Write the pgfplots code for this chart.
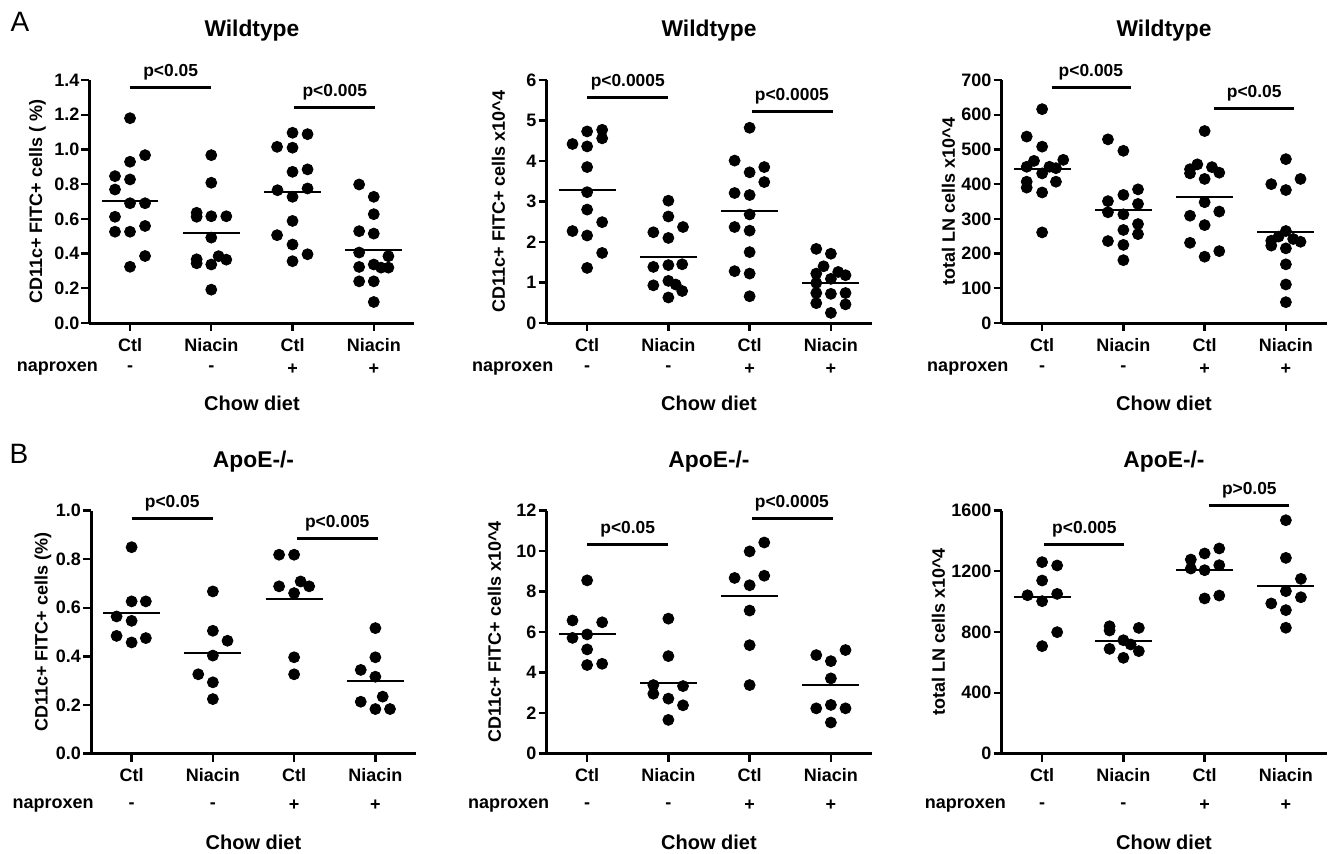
\documentclass[border=0pt]{standalone}
\usepackage{fontspec}
\setmainfont{Liberation Sans}
\usepackage{pgfplots}
\pgfplotsset{compat=1.18}

\newcommand\fs[1]{\bfseries\fontsize{#1}{#1}\selectfont}

\pgfplotsset{
  gp/.style={
    scale only axis, width=162.5pt, height=121.5pt,
    xmin=-0.5, xmax=3.5, ymin=0,
    axis x line*=bottom, axis y line*=left,
    axis line style={line width=1.5pt, -},
    xtick={0,1,2,3}, xticklabels={Ctl,Niacin,Ctl,Niacin},
    tick align=outside, major tick length=4pt,
    every tick/.style={black, line width=1.2pt},
    xticklabel style={font=\fs{9}},
    yticklabel style={font=\fs{9}, xshift=2.5pt},
    /pgf/number format/assume math mode=true,
    clip=false,
    title style={font=\fs{11.4}, at={(0.5,1)}, anchor=center, yshift=18.5pt},
  },
  dots/.style={only marks, mark=*, mark size=2.75pt, black},
  mean/.style={no marks, line width=1pt, black},
  sig/.style={no marks, line width=1.5pt, black},
  dec1/.style={yticklabel style={/pgf/number format/.cd, fixed, fixed zerofill, precision=1}},
}

\begin{document}
\begin{tikzpicture}
\path[use as bounding box] (0,0) rectangle (668pt,426.5pt);

\node[font=\fontsize{14}{14}\selectfont] at (10pt,415.5pt) {A};
\node[font=\fontsize{14}{14}\selectfont] at (9.5pt,199.5pt) {B};

% ---------- A1: Wildtype, percent
\begin{axis}[gp, dec1, at={(44.7pt,265pt)}, anchor=south west,
  ymax=1.4, ytick={0,0.2,0.4,0.6,0.8,1.0,1.2,1.4}, title={Wildtype}]
\addplot[dots] coordinates {
 (0,1.18) (0.185,0.967) (0,0.929) (-0.185,0.846) (0,0.827) (-0.185,0.769) (0,0.69)
 (0.185,0.69) (-0.185,0.612) (-0.185,0.526) (0,0.526) (0.185,0.559) (0.185,0.386) (0,0.324)
 (1,0.967) (1,0.808) (0.82,0.635) (0.82,0.612) (1,0.615) (1.185,0.615) (1,0.492)
 (0.82,0.367) (0.82,0.344) (1.09,0.385) (1.185,0.365) (1,0.337) (1,0.192)
 (2,1.096) (2.185,1.088) (1.81,1.015) (2,1.010) (2,0.871) (2.185,0.885) (1.815,0.765)
 (2,0.727) (2.185,0.775) (2,0.588) (1.81,0.506) (2,0.452) (2,0.356) (2.185,0.396)
 (2.82,0.798) (3,0.727) (3,0.627) (2.82,0.529) (3,0.515) (2.82,0.406) (3.18,0.385)
 (2.82,0.323) (3,0.337) (3.09,0.319) (3.18,0.319) (2.82,0.240) (3,0.240) (3,0.121)};
\addplot[mean] coordinates {(-0.35,0.702) (0.35,0.702)};
\addplot[mean] coordinates {(0.65,0.519) (1.35,0.519)};
\addplot[mean] coordinates {(1.65,0.754) (2.35,0.754)};
\addplot[mean] coordinates {(2.65,0.423) (3.35,0.423)};
\addplot[sig] coordinates {(0,1.354) (1,1.354)};
\addplot[sig] coordinates {(2.02,1.239) (3.02,1.239)};
\node[anchor=base, yshift=5.5pt, font=\fs{8.7}] at (axis cs:0.5,1.354) {p<0.05};
\node[anchor=base, yshift=5.5pt, font=\fs{8.7}] at (axis cs:2.52,1.239) {p<0.005};
\node[rotate=90, font=\fs{9}] at ([xshift=-26pt]rel axis cs:0,0.5) {CD11c+ FITC+ cells ( \%)};
\node[anchor=east, font=\fs{9}] at ([yshift=-23pt]axis cs:-0.31,0) {naproxen};
\node[font=\fs{9}] at ([yshift=-23pt]axis cs:0,0) {-};
\node[font=\fs{9}] at ([yshift=-23pt]axis cs:1,0) {-};
\node[font=\fs{9}] at ([yshift=-23pt]axis cs:2,0) {+};
\node[font=\fs{9}] at ([yshift=-23pt]axis cs:3,0) {+};
\node[font=\fs{10}] at ([yshift=-40pt]rel axis cs:0.5,0) {Chow diet};
\end{axis}

% ---------- A2: Wildtype, count
\begin{axis}[gp, at={(273.25pt,265pt)}, anchor=south west,
  ymax=6, ytick={0,1,2,3,4,5,6}, title={Wildtype}]
\addplot[dots] coordinates {
 (0,4.73) (0.185,4.77) (-0.18,4.42) (0,4.36) (0.185,4.56) (0,3.85) (0,3.23)
 (0,2.80) (0.185,2.49) (-0.18,2.27) (0,2.16) (0.185,1.73) (0,1.36)
 (1,3.02) (1,2.63) (0.815,2.24) (1.18,2.37) (1,2.10) (0.815,1.385) (1,1.43)
 (1.17,1.45) (1,1.04) (0.815,0.93) (1.09,0.95) (1.17,0.79) (1,0.63)
 (2,4.82) (1.815,4.01) (2,3.72) (2.18,3.85) (2.18,3.48) (1.815,3.21) (2,3.16)
 (2,2.68) (1.815,2.37) (2,2.28) (2,1.75) (1.815,1.28) (2,1.22) (2,0.66)
 (2.82,1.83) (3,1.71) (2.91,1.40) (2.82,1.22) (3,1.09) (3.09,1.26) (3.18,1.18)
 (2.82,0.99) (2.82,0.74) (3,0.72) (3.18,0.74) (2.82,0.49) (3.18,0.46) (3,0.25)};
\addplot[mean] coordinates {(-0.35,3.29) (0.35,3.29)};
\addplot[mean] coordinates {(0.65,1.63) (1.35,1.63)};
\addplot[mean] coordinates {(1.65,2.76) (2.35,2.76)};
\addplot[mean] coordinates {(2.65,0.99) (3.35,0.99)};
\addplot[sig] coordinates {(0,5.56) (1,5.56)};
\addplot[sig] coordinates {(2.03,5.21) (3.02,5.21)};
\node[anchor=base, yshift=5.5pt, font=\fs{8.7}] at (axis cs:0.5,5.56) {p<0.0005};
\node[anchor=base, yshift=5.5pt, font=\fs{8.7}] at (axis cs:2.52,5.21) {p<0.0005};
\node[rotate=90, font=\fs{9}] at ([xshift=-24pt]rel axis cs:0,0.5) {CD11c+ FITC+ cells x10\^{}4};
\node[anchor=east, font=\fs{9}] at ([yshift=-23pt]axis cs:-0.33,0) {naproxen};
\node[font=\fs{9}] at ([yshift=-23pt]axis cs:0,0) {-};
\node[font=\fs{9}] at ([yshift=-23pt]axis cs:1,0) {-};
\node[font=\fs{9}] at ([yshift=-23pt]axis cs:2,0) {+};
\node[font=\fs{9}] at ([yshift=-23pt]axis cs:3,0) {+};
\node[font=\fs{10}] at ([yshift=-40pt]rel axis cs:0.5,0) {Chow diet};
\end{axis}

% ---------- A3: Wildtype, total LN
\begin{axis}[gp, at={(500.75pt,265pt)}, anchor=south west,
  ymax=700, ytick={0,100,200,300,400,500,600,700}, title={Wildtype}]
\addplot[dots] coordinates {
 (0,616) (-0.19,537) (0,508) (-0.1,467) (0.26,470) (-0.19,450) (0.09,450)
 (0.17,446) (0,431) (-0.19,407) (0.17,407) (-0.19,390) (0,376) (0,261)
 (0.81,529) (1,496) (1.18,385) (0.81,351) (1,369) (1.18,343) (0.81,319)
 (1,313) (1.18,285) (1,268) (1.18,256) (0.81,236) (1,225) (1,181)
 (2,553) (1.91,457) (1.82,443) (2.09,449) (1.82,431) (2.18,433) (2,415)
 (2,348) (1.82,309) (2.18,321) (2,282) (1.82,231) (2.18,207) (2,191)
 (3,472) (2.82,400) (3.18,415) (3,383) (3,265) (2.91,249) (2.82,237)
 (2.82,223) (3.09,242) (3.18,234) (3,215) (3,169) (3,111) (3,60)};
\addplot[mean] coordinates {(-0.35,443) (0.35,443)};
\addplot[mean] coordinates {(0.65,326) (1.35,326)};
\addplot[mean] coordinates {(1.65,362) (2.35,362)};
\addplot[mean] coordinates {(2.65,263) (3.35,263)};
\addplot[sig] coordinates {(0.12,677) (1.09,677)};
\addplot[sig] coordinates {(2.12,619) (3.1,619)};
\node[anchor=base, yshift=5.5pt, font=\fs{8.7}] at (axis cs:0.6,677) {p<0.005};
\node[anchor=base, yshift=5.5pt, font=\fs{8.7}] at (axis cs:2.61,619) {p<0.05};
\node[rotate=90, font=\fs{9}] at ([xshift=-26.5pt]rel axis cs:0,0.5) {total LN cells x10\^{}4};
\node[anchor=east, font=\fs{9}] at ([yshift=-23pt]axis cs:-0.33,0) {naproxen};
\node[font=\fs{9}] at ([yshift=-23pt]axis cs:0,0) {-};
\node[font=\fs{9}] at ([yshift=-23pt]axis cs:1,0) {-};
\node[font=\fs{9}] at ([yshift=-23pt]axis cs:2,0) {+};
\node[font=\fs{9}] at ([yshift=-23pt]axis cs:3,0) {+};
\node[font=\fs{10}] at ([yshift=-40pt]rel axis cs:0.5,0) {Chow diet};
\end{axis}

% ---------- B1: ApoE, percent
\begin{axis}[gp, dec1, at={(45.5pt,49.75pt)}, anchor=south west,
  ymax=1.0, ytick={0,0.2,0.4,0.6,0.8,1.0}, title={ApoE-/-}]
\addplot[dots] coordinates {
 (0,0.849) (0,0.626) (0.175,0.626) (-0.185,0.564) (0,0.546) (-0.185,0.484) (0.175,0.475) (0,0.457)
 (1,0.667) (1,0.505) (1.18,0.464) (1,0.403) (0.82,0.326) (1,0.293) (1,0.224)
 (1.815,0.818) (2,0.818) (1.815,0.688) (2.08,0.708) (2.185,0.688) (2,0.660) (2,0.396) (2,0.326)
 (3,0.516) (3,0.396) (2.82,0.344) (3,0.316) (3.09,0.234) (2.82,0.213) (3,0.183) (3.18,0.183)};
\addplot[mean] coordinates {(-0.35,0.580) (0.35,0.580)};
\addplot[mean] coordinates {(0.65,0.413) (1.35,0.413)};
\addplot[mean] coordinates {(1.65,0.635) (2.35,0.635)};
\addplot[mean] coordinates {(2.65,0.300) (3.35,0.300)};
\addplot[sig] coordinates {(0,0.967) (1,0.967)};
\addplot[sig] coordinates {(2.03,0.884) (3.03,0.884)};
\node[anchor=base, yshift=5.5pt, font=\fs{8.7}] at (axis cs:0.5,0.967) {p<0.05};
\node[anchor=base, yshift=5.5pt, font=\fs{8.7}] at (axis cs:2.53,0.884) {p<0.005};
\node[rotate=90, font=\fs{9}] at ([xshift=-24pt]rel axis cs:0,0.5) {CD11c+ FITC+ cells (\%)};
\node[anchor=east, font=\fs{9}] at ([yshift=-26pt]axis cs:-0.38,0) {naproxen};
\node[font=\fs{9}] at ([yshift=-26pt]axis cs:0,0) {-};
\node[font=\fs{9}] at ([yshift=-26pt]axis cs:1,0) {-};
\node[font=\fs{9}] at ([yshift=-26pt]axis cs:2,0) {+};
\node[font=\fs{9}] at ([yshift=-26pt]axis cs:3,0) {+};
\node[font=\fs{10}] at ([yshift=-44.5pt]rel axis cs:0.5,0) {Chow diet};
\end{axis}

% ---------- B2: ApoE, count
\begin{axis}[gp, at={(273.25pt,49.75pt)}, anchor=south west,
  ymax=12, ytick={0,2,4,6,8,10,12}, title={ApoE-/-}]
\addplot[dots] coordinates {
 (0,8.55) (-0.18,6.57) (0.185,6.48) (-0.18,5.71) (0,5.88) (0,5.14) (0,4.37) (0.185,4.43)
 (1,6.66) (1,4.81) (0.815,3.38) (1.18,3.33) (0.815,2.95) (1,2.71) (1.18,2.38) (1,1.66)
 (2.18,10.42) (2,9.98) (1.815,8.67) (2.18,8.78) (2,8.31) (2,7.06) (2,5.35) (2,3.38)
 (3.18,5.11) (2.82,4.86) (3,4.56) (3,3.71) (2.82,2.23) (3,2.40) (3.18,2.23) (3,1.53)};
\addplot[mean] coordinates {(-0.35,5.91) (0.35,5.91)};
\addplot[mean] coordinates {(0.65,3.50) (1.35,3.50)};
\addplot[mean] coordinates {(1.65,7.76) (2.35,7.76)};
\addplot[mean] coordinates {(2.65,3.37) (3.35,3.37)};
\addplot[sig] coordinates {(0,10.32) (1,10.32)};
\addplot[sig] coordinates {(2.03,11.6) (3.02,11.6)};
\node[anchor=base, yshift=5.5pt, font=\fs{8.7}] at (axis cs:0.5,10.32) {p<0.05};
\node[anchor=base, yshift=5.5pt, font=\fs{8.7}] at (axis cs:2.52,11.6) {p<0.0005};
\node[rotate=90, font=\fs{9}] at ([xshift=-26pt]rel axis cs:0,0.5) {CD11c+ FITC+ cells x10\^{}4};
\node[anchor=east, font=\fs{9}] at ([yshift=-26pt]axis cs:-0.38,0) {naproxen};
\node[font=\fs{9}] at ([yshift=-26pt]axis cs:0,0) {-};
\node[font=\fs{9}] at ([yshift=-26pt]axis cs:1,0) {-};
\node[font=\fs{9}] at ([yshift=-26pt]axis cs:2,0) {+};
\node[font=\fs{9}] at ([yshift=-26pt]axis cs:3,0) {+};
\node[font=\fs{10}] at ([yshift=-44.5pt]rel axis cs:0.5,0) {Chow diet};
\end{axis}

% ---------- B3: ApoE, total LN
\begin{axis}[gp, at={(500.75pt,49.75pt)}, anchor=south west,
  ymax=1600, ytick={0,400,800,1200,1600}, title={ApoE-/-},
  yticklabel style={/pgf/number format/1000 sep={}}]
\addplot[dots] coordinates {
 (0,1260) (0.185,1238) (0,1139) (-0.18,1042) (0.185,1051) (0,1003) (0.185,799) (0,707)
 (0.83,838) (0.83,810) (1.19,827) (1,746) (1.09,718) (0.83,689) (1.19,674) (1,630)
 (1.83,1277) (2,1317) (2.18,1350) (1.83,1218) (2,1207) (2.18,1240) (2,1021) (2.18,1040)
 (3,1536) (3,1288) (3.185,1150) (3,1069) (3.185,1029) (2.82,988) (3,944) (3,828)};
\addplot[mean] coordinates {(-0.35,1029) (0.35,1029)};
\addplot[mean] coordinates {(0.65,744) (1.35,744)};
\addplot[mean] coordinates {(1.65,1211) (2.35,1211)};
\addplot[mean] coordinates {(2.65,1102) (3.35,1102)};
\addplot[sig] coordinates {(0.02,1376) (1.01,1376)};
\addplot[sig] coordinates {(2.05,1633) (3.04,1633)};
\node[anchor=base, yshift=5.5pt, font=\fs{8.7}] at (axis cs:0.52,1376) {p<0.005};
\node[anchor=base, yshift=5.5pt, font=\fs{8.7}] at (axis cs:2.55,1633) {p>0.05};
\node[rotate=90, font=\fs{9}] at ([xshift=-31.5pt]rel axis cs:0,0.5) {total LN cells x10\^{}4};
\node[anchor=east, font=\fs{9}] at ([yshift=-26pt]axis cs:-0.36,0) {naproxen};
\node[font=\fs{9}] at ([yshift=-26pt]axis cs:0,0) {-};
\node[font=\fs{9}] at ([yshift=-26pt]axis cs:1,0) {-};
\node[font=\fs{9}] at ([yshift=-26pt]axis cs:2,0) {+};
\node[font=\fs{9}] at ([yshift=-26pt]axis cs:3,0) {+};
\node[font=\fs{10}] at ([yshift=-44.5pt]rel axis cs:0.5,0) {Chow diet};
\end{axis}
\end{tikzpicture}
\end{document}
